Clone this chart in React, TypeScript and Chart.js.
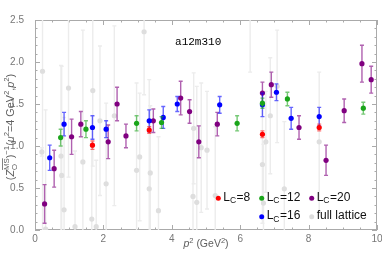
import React, { useEffect, useRef } from "react";
import Chart from "chart.js/auto";

// ---------------- data ----------------
const lc8X = [1.68, 3.34, 6.65, 8.31];
const lc8Y = [1.01, 1.19, 1.14, 1.22];
const lc8Err = [0.05, 0.04, 0.04, 0.04];

const lc12X = [0.75, 1.49, 2.97, 3.7, 5.91, 6.65, 7.38, 9.6];
const lc12Y = [1.1, 1.2, 1.27, 1.28, 1.27, 1.51, 1.56, 1.45];
const lc12Err = [0.1, 0.1, 0.09, 0.07, 0.09, 0.06, 0.08, 0.07];

const lc16X = [0.43, 0.85, 1.68, 2.08, 3.34, 3.75, 4.16, 5.4, 6.65, 7.06, 7.49, 8.31];
const lc16Y = [0.86, 1.26, 1.22, 1.2, 1.3, 1.34, 1.5, 1.49, 1.49, 1.64, 1.33, 1.35];
const lc16Err = [0.15, 0.14, 0.14, 0.1, 0.13, 0.13, 0.09, 0.1, 0.14, 0.1, 0.13, 0.11];

const lc20X = [0.28, 0.56, 1.07, 1.34, 2.14, 2.4, 2.66, 3.46, 4.26, 4.52, 4.79, 5.33, 6.65, 6.91, 7.72, 8.51, 9.04, 9.56, 9.83];
const lc20Y = [0.31, 0.73, 1.11, 1.26, 1.05, 1.5, 1.12, 1.3, 1.57, 1.41, 1.05, 1.26, 1.63, 1.73, 1.22, 0.83, 1.42, 1.98, 1.79];
const lc20Err = [0.23, 0.22, 0.21, 0.15, 0.2, 0.2, 0.14, 0.14, 0.2, 0.14, 0.19, 0.14, 0.13, 0.15, 0.14, 0.18, 0.14, 0.22, 0.16];

const fullX = [0.2, 0.22, 0.31, 0.76, 0.78, 0.85, 0.98, 1.17, 1.4, 1.66, 1.69, 1.79, 1.9, 2.08, 2.32, 2.97, 3.06, 3.19, 3.34, 3.37, 3.61, 4.62, 4.64, 4.73, 4.86, 5.03, 5.27, 6.29, 6.65, 6.68, 6.75, 6.88, 7.08, 7.29, 8.31];
const fullY = [0.93, 1.89, 0.01, 0.88, 0.65, 0.24, 1.69, 0.04, 0.81, 0.13, 1.66, 0.04, 1.3, 0.55, 1.36, 0.71, 0.87, 2.36, 0.49, 0.68, 0.23, 0.4, 1.21, 0.33, 0.98, 0.95, 0.41, 2.9, 0.78, 0.32, 1.05, 1.36, 1.71, 0.49, 1.05];
const fullErr = [0.05, 2.0, 1.42, 1.08, 1.3, 1.1, 1.06, 0.9, 1.57, 0.9, 0.9, 0.79, 0.89, 0.96, 1.07, 1.04, 0.76, 0.75, 1.3, 0.8, 0.88, 0.8, 0.66, 1.38, 0.77, 0.7, 0.82, 1.02, 0.7, 0.7, 0.6, 0.69, 0.67, 0.8, 0.83];

const xTicks = [0, 2, 4, 6, 8, 10];
const yTicks = [0, 0.5, 1, 1.5, 2, 2.5];

const FONT = "'Liberation Sans', Arial, sans-serif";

const toPts = (xs: number[], ys: number[]) => xs.map((x, i) => ({ x, y: ys[i] }));

// ---------------- plugins ----------------
const errorBarPlugin = {
  id: "errbars",
  beforeDatasetDraw(chart: any, args: any) {
    const ds = chart.data.datasets[args.index];
    const errs: number[] | undefined = ds.errs;
    if (!errs) return;
    const { ctx, chartArea: a } = chart;
    const xs = chart.scales.x;
    const ys = chart.scales.y;
    ctx.save();
    ctx.beginPath();
    ctx.rect(a.left, a.top, a.right - a.left, a.bottom - a.top);
    ctx.clip();
    ctx.strokeStyle = ds.errColor;
    ctx.lineWidth = 1.4;
    const cap = 2;
    ds.data.forEach((p: any, i: number) => {
      const px = xs.getPixelForValue(p.x);
      const y1 = ys.getPixelForValue(p.y + errs[i]);
      const y2 = ys.getPixelForValue(p.y - errs[i]);
      ctx.beginPath();
      ctx.moveTo(px, y1);
      ctx.lineTo(px, y2);
      ctx.moveTo(px - cap, y1);
      ctx.lineTo(px + cap, y1);
      ctx.moveTo(px - cap, y2);
      ctx.lineTo(px + cap, y2);
      ctx.stroke();
    });
    ctx.restore();
  },
};

const framePlugin = {
  id: "frame",
  beforeDatasetsDraw(chart: any) {
    const { ctx, chartArea: a } = chart;
    const xs = chart.scales.x;
    const ys = chart.scales.y;
    ctx.save();
    ctx.strokeStyle = "#aaaaaa";
    ctx.lineWidth = 1;
    ctx.strokeRect(Math.round(a.left) + 0.5, Math.round(a.top) + 0.5, Math.round(a.right - a.left) - 1, Math.round(a.bottom - a.top) - 1);
    ctx.beginPath();
    for (let v = 0; v <= 10.0001; v += 0.5) {
      const major = Math.abs(v / 2 - Math.round(v / 2)) < 1e-6;
      const len = major ? 5 : 2.5;
      const px = Math.round(xs.getPixelForValue(v)) + 0.5;
      ctx.moveTo(px, a.bottom);
      ctx.lineTo(px, a.bottom - len);
      ctx.moveTo(px, a.top);
      ctx.lineTo(px, a.top + len);
    }
    for (let k = 0; k <= 25; k++) {
      const v = k / 10;
      const major = k % 5 === 0;
      const len = major ? 5 : 2.5;
      const py = Math.round(ys.getPixelForValue(v)) + 0.5;
      ctx.moveTo(a.left, py);
      ctx.lineTo(a.left + len, py);
      ctx.moveTo(a.right, py);
      ctx.lineTo(a.right - len, py);
    }
    ctx.stroke();
    ctx.restore();
  },
};

type Seg = { t?: string; it?: boolean; kind?: "n" | "sup" | "stack"; sub?: string; sup?: string };

function drawRich(ctx: CanvasRenderingContext2D, segs: Seg[], x0: number, baseY: number, size: number, center: boolean) {
  const small = size * 0.72;
  const fontN = `${size}px ${FONT}`;
  const fontI = `italic ${size}px ${FONT}`;
  const fontS = `${small}px ${FONT}`;
  const widths = segs.map((s) => {
    if (s.kind === "sup") {
      ctx.font = fontS;
      return ctx.measureText(s.t || "").width;
    }
    if (s.kind === "stack") {
      ctx.font = fontS;
      return Math.max(ctx.measureText(s.sub || "").width, ctx.measureText(s.sup || "").width);
    }
    ctx.font = s.it ? fontI : fontN;
    return ctx.measureText(s.t || "").width;
  });
  const total = widths.reduce((p, c) => p + c, 0);
  let x = center ? x0 - total / 2 : x0;
  ctx.textBaseline = "alphabetic";
  ctx.textAlign = "left";
  segs.forEach((s, i) => {
    if (s.kind === "sup") {
      ctx.font = fontS;
      ctx.fillText(s.t || "", x, baseY - size * 0.42);
    } else if (s.kind === "stack") {
      ctx.font = fontS;
      ctx.fillText(s.sub || "", x, baseY + size * 0.25);
      const sy = baseY - size * 0.5;
      ctx.fillText(s.sup || "", x, sy);
      const w = ctx.measureText(s.sup || "").width;
      ctx.fillRect(x, sy - small * 0.85, w, 0.8);
    } else {
      ctx.font = s.it ? fontI : fontN;
      ctx.fillText(s.t || "", x, baseY);
    }
    x += widths[i];
  });
}

const textPlugin = {
  id: "texts",
  afterDraw(chart: any) {
    const { ctx, chartArea: a } = chart;
    const xs = chart.scales.x;
    const ys = chart.scales.y;
    ctx.save();

    // label inside the plot
    ctx.fillStyle = "#000";
    ctx.font = `11px 'Liberation Mono', 'DejaVu Sans Mono', monospace`;
    ctx.textAlign = "center";
    ctx.textBaseline = "middle";
    ctx.fillText("a12m310", xs.getPixelForValue(4.77), ys.getPixelForValue(2.24));

    // x title
    ctx.fillStyle = "#606060";
    drawRich(
      ctx,
      [{ t: "p", it: true }, { t: "2", kind: "sup" }, { t: " (GeV" }, { t: "2", kind: "sup" }, { t: ")" }],
      (a.left + a.right) / 2,
      a.bottom + 17,
      10.5,
      true
    );

    // y title
    ctx.save();
    ctx.translate(14, 127);
    ctx.rotate(-Math.PI / 2);
    drawRich(
      ctx,
      [
        { t: "(" },
        { t: "Z", it: true },
        { kind: "stack", sub: "O", sup: "MS" },
        { t: ")" },
        { t: "\u22121", kind: "sup" },
        { t: "(" },
        { t: "\u03bc", it: true },
        { t: "2", kind: "sup" },
        { t: "=4 GeV" },
        { t: "2", kind: "sup" },
        { t: "," },
        { t: "p", it: true },
        { t: "2", kind: "sup" },
        { t: ")" },
      ],
      0,
      0,
      10.8,
      true
    );
    ctx.restore();

    // legend
    const items = [
      { label: "8", color: "#ff0000", col: 0, row: 0 },
      { label: "12", color: "#1aa51a", col: 1, row: 0 },
      { label: "20", color: "#800080", col: 2, row: 0 },
      { label: "16", color: "#0000ff", col: 1, row: 1 },
      { label: "", color: "#dddddd", col: 2, row: 1 },
    ];
    const colX = [a.left + 183.3, a.left + 226.7, a.left + 276.7];
    const rowY = [a.top + 178.3, a.top + 196.7];
    items.forEach((it) => {
      const cx = colX[it.col];
      const cy = rowY[it.row];
      ctx.fillStyle = it.color;
      ctx.beginPath();
      ctx.arc(cx, cy, 2.5, 0, Math.PI * 2);
      ctx.fill();
      ctx.fillStyle = "#111";
      ctx.textAlign = "left";
      ctx.textBaseline = "alphabetic";
      const tx = cx + 5;
      const by = cy + 2.3;
      if (it.label) {
        ctx.font = `12px ${FONT}`;
        ctx.fillText("L", tx, by);
        const lw = ctx.measureText("L").width;
        ctx.font = `8.5px ${FONT}`;
        ctx.fillText("C", tx + lw, by + 2.5);
        const cw = ctx.measureText("C").width;
        ctx.font = `12px ${FONT}`;
        ctx.fillText("=" + it.label, tx + lw + cw + 0.5, by);
      } else {
        ctx.font = `12px ${FONT}`;
        ctx.fillText("full lattice", tx, by);
      }
    });
    ctx.restore();
  },
};

// ---------------- component ----------------
export default function App() {
  const ref = useRef<HTMLCanvasElement | null>(null);
  useEffect(() => {
    if (!ref.current) return;
    const mk = (label: string, xs: number[], ys: number[], errs: number[], color: string, errColor: string, order: number) => ({
      label,
      data: toPts(xs, ys),
      errs,
      errColor,
      backgroundColor: color,
      borderColor: color,
      borderWidth: 0,
      pointRadius: 2.6,
      pointHoverRadius: 2.6,
      showLine: false,
      order,
    });
    const chart = new Chart(ref.current, {
      type: "scatter",
      data: {
        datasets: [
          mk("Lc=8", lc8X, lc8Y, lc8Err, "#ff0000", "rgba(255,0,0,0.55)", 1),
          mk("Lc=12", lc12X, lc12Y, lc12Err, "#1aa51a", "rgba(26,165,26,0.6)", 2),
          mk("Lc=16", lc16X, lc16Y, lc16Err, "#0000ff", "rgba(0,0,255,0.6)", 3),
          mk("Lc=20", lc20X, lc20Y, lc20Err, "#800080", "rgba(128,0,128,0.62)", 4),
          mk("full lattice", fullX, fullY, fullErr, "#dedede", "#ececec", 10),
        ] as any,
      },
      options: {
        animation: false,
        responsive: true,
        maintainAspectRatio: false,
        devicePixelRatio: 1,
        layout: { padding: { top: 20, right: 5, left: 0, bottom: 0 } },
        plugins: { legend: { display: false }, tooltip: { enabled: false } },
        events: [],
        scales: {
          x: {
            type: "linear",
            min: 0,
            max: 10,
            afterBuildTicks: (s: any) => {
              s.ticks = xTicks.map((v) => ({ value: v }));
            },
            afterFit: (s: any) => {
              s.height = 37;
            },
            grid: { display: false },
            border: { display: false },
            ticks: { color: "#777", font: { family: FONT, size: 10 }, padding: -5, callback: (v: any) => String(v) },
          },
          y: {
            type: "linear",
            min: 0,
            max: 2.5,
            afterBuildTicks: (s: any) => {
              s.ticks = yTicks.map((v) => ({ value: v }));
            },
            afterFit: (s: any) => {
              s.width = 35;
            },
            grid: { display: false },
            border: { display: false },
            ticks: { color: "#777", font: { family: FONT, size: 10 }, padding: 3, callback: (v: any) => Number(v).toFixed(1) },
          },
        },
      } as any,
      plugins: [framePlugin, errorBarPlugin, textPlugin],
    });
    return () => chart.destroy();
  }, []);
  return (
    <div style={{ position: "fixed", left: 0, top: 0, width: 382, height: 267, background: "#fff" }}>
      <canvas ref={ref} />
    </div>
  );
}
